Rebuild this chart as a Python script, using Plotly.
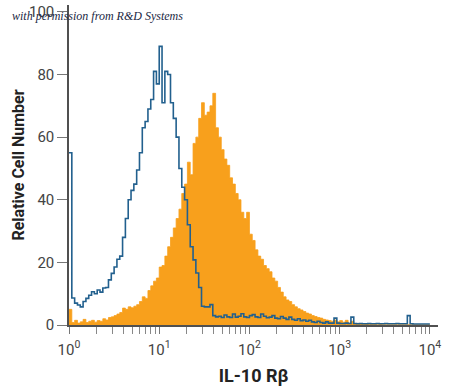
import plotly.graph_objects as go

# Histogram data: 32 bins per decade, from 10^0 to 10^4 (128 bins)
bins_per_decade = 32
isotype_counts = [
    55, 8.6, 7, 6.4, 5.8, 7.5, 8.5, 9.5, 10.6, 10, 11.2, 10.5, 11.8, 12, 14.4, 16.5,
    18.5, 21, 22, 28, 34, 40, 43, 45, 49.5, 55, 63, 65, 69, 72, 81, 77,
    89, 71, 81, 80, 71, 66, 60, 50, 44, 40, 32, 25, 20.8, 16.6, 12, 6,
    5.8, 5.8, 6.5, 3, 2.6, 2.8, 2.4, 3.2, 2.6, 2.4, 3.5, 2.5, 2.8, 3.6, 2.6, 2.4,
    3, 3.3, 2.6, 2.4, 3.5, 2.8, 2.3, 2.5, 3, 2.2, 2, 2.7, 2.2, 1.8, 2.5, 1.8,
    1.5, 2, 1.4, 1.6, 1.2, 1.5, 1, 0.8, 1.2, 0.8, 0.6, 1, 0.6, 0.6, 2.2, 0.6,
    0.5, 0.5, 0.6, 0.5, 2.5, 0.5, 0.4, 0.5, 0.4, 0.4, 0.5, 0.4, 0.4, 0.5, 0.4, 0.4,
    0.5, 0.4, 0.4, 0.4, 0.5, 0.4, 0.4, 0.4, 3, 0.4, 0.3, 0.3, 0.3, 0.3, 0.3, 0.3,
]
stained_counts = [
    5, 0.8, 1.5, 0.6, 1, 1.8, 0.8, 1.2, 1.5, 0.9, 1.4, 1.2, 2, 1.6, 2.4, 2.6,
    3, 3.5, 4, 5.4, 5, 5.8, 5.5, 6, 6.5, 7.5, 9, 8.5, 11, 12.5, 14, 15,
    18.5, 19, 22, 25, 28, 31, 34, 37, 42, 45, 52, 48, 58, 60, 66, 71,
    67, 68, 70, 74, 63, 60, 56, 53, 51, 47, 45, 42, 40, 36, 34, 36,
    29, 27, 24, 22, 21, 19, 18, 17, 15, 14, 12, 10.5, 9, 8, 7.5, 6.5,
    5.8, 5.2, 4.8, 4.3, 3.8, 3.5, 3, 2.7, 2.4, 2.2, 1.8, 1.6, 1.4, 1.2, 1.6, 1,
    1.4, 0.9, 1.5, 0.6, 1.2, 0.4, 0.5, 0.3, 0.2, 0.3, 0.2, 0.2, 0.2, 0.1, 0.2, 0.1,
    0.1, 0.1, 0.1, 0.1, 0.1, 0.1, 0.1, 0.1, 0.1, 0.1, 0.1, 0.1, 0.1, 0.1, 0.1, 0.1,
]
y_ticks = [0, 20, 40, 60, 80, 100]
x_ticks = [1, 10, 100, 1000, 10000]
x_tick_labels = ["10<sup>0</sup>", "10<sup>1</sup>", "10<sup>2</sup>", "10<sup>3</sup>", "10<sup>4</sup>"]

n = len(stained_counts)
edges = [10 ** (i / bins_per_decade) for i in range(n + 1)]

def stepped(vals):
    return list(vals) + [vals[-1]]

ORANGE = "#F8A01C"
BLUE = "#22608E"
AXIS = "#505050"
FONT = "Roboto, sans-serif"

fig = go.Figure()
fig.add_trace(go.Scatter(
    x=edges, y=stepped(stained_counts), mode="lines", line_shape="hv",
    line=dict(color=ORANGE, width=0.8), fill="tozeroy", fillcolor=ORANGE,
    hoverinfo="skip", showlegend=False,
))
fig.add_trace(go.Scatter(
    x=edges, y=stepped(isotype_counts), mode="lines", line_shape="hv",
    line=dict(color=BLUE, width=1.6), hoverinfo="skip", showlegend=False,
))

minor_vals = [m * 10 ** d for d in range(4) for m in range(2, 10)]

fig.update_layout(
    width=450, height=388,
    margin=dict(l=69, r=12, t=5, b=63),
    plot_bgcolor="white", paper_bgcolor="white",
    font=dict(family=FONT, color="#444444", size=15),
    xaxis=dict(
        type="log", range=[0, 4.09], showgrid=False, zeroline=False, automargin=False,
        showline=True, linecolor=AXIS, linewidth=1.5,
        tickmode="array", tickvals=x_ticks, ticktext=x_tick_labels,
        ticks="outside", ticklen=7, tickcolor="#777777", tickwidth=1,
        ticklabelstandoff=3,
        tickfont=dict(size=15, family=FONT, color="#444444"),
        minor=dict(tickmode="array", tickvals=minor_vals, ticks="outside",
                   ticklen=7, tickcolor="#888888", tickwidth=1, showgrid=False),
        title=dict(text="<b>IL-10 Rβ</b>", font=dict(size=18, family=FONT, color="#222222"),
                   standoff=12),
    ),
    yaxis=dict(
        range=[0, 102.2], showgrid=False, zeroline=False, automargin=False,
        showline=True, linecolor=AXIS, linewidth=1.5,
        tickmode="array", tickvals=y_ticks,
        ticks="outside", ticklen=10, tickcolor="#777777", tickwidth=1,
        tickfont=dict(size=15, family=FONT, color="#444444"),
        title=dict(text="<b>Relative Cell Number</b>", font=dict(size=16, family=FONT, color="#222222"),
                   standoff=0),
    ),
    annotations=[dict(
        text="<i>with permission from R&amp;D Systems</i>",
        xref="paper", yref="paper", x=-59 / 369, y=1 - 11 / 320,
        xanchor="left", yanchor="middle", showarrow=False,
        font=dict(family="Liberation Serif, DejaVu Serif, serif", size=12, color="#1B2744"),
    )],
)

fig.write_html(
    "out.html",
    config={"displayModeBar": False},
    post_script="document.body.style.margin='0';document.body.style.overflow='hidden';",
)
